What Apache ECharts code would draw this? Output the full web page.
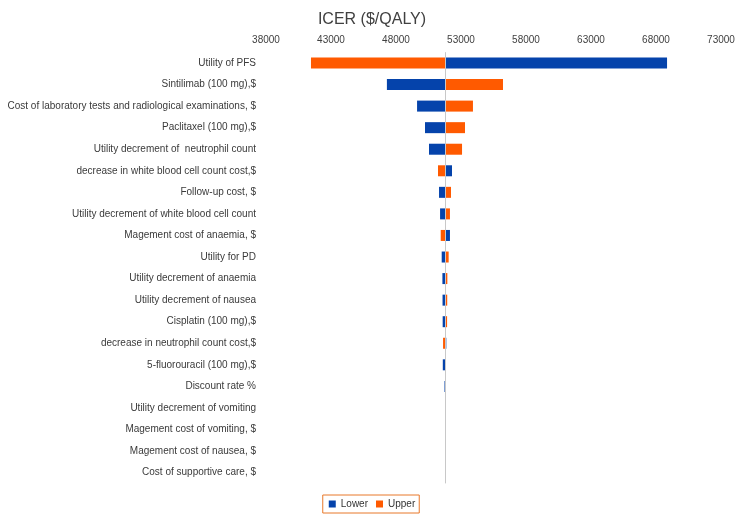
<!DOCTYPE html>
<html>
<head>
<meta charset="utf-8">
<script src="https://cdn.jsdelivr.net/npm/echarts@6/dist/echarts.min.js"></script>
<style>
html,body{margin:0;padding:0;background:#fff;}
#chart{width:744px;height:520px;}
</style>
</head>
<body>
<div id="chart"></div>
<script>
var categories = [
  "Utility of PFS",
  "Sintilimab (100 mg),$",
  "Cost of laboratory tests and radiological examinations, $",
  "Paclitaxel (100 mg),$",
  "Utility decrement of  neutrophil count",
  "decrease in white blood cell count cost,$",
  "Follow-up cost, $",
  "Utility decrement of white blood cell count",
  "Magement cost of anaemia, $",
  "Utility for PD",
  "Utility decrement of anaemia",
  "Utility decrement of nausea",
  "Cisplatin (100 mg),$",
  "decrease in neutrophil count cost,$",
  "5-fluorouracil (100 mg),$",
  "Discount rate %",
  "Utility decrement of vomiting",
  "Magement cost of vomiting, $",
  "Magement cost of nausea, $",
  "Cost of supportive care, $"
];
var baseValue = 51770;
var lowerValues = [68850, 47300, 49620, 50230, 50540, 52310, 51310, 51390, 52150, 51515, 51570, 51580, 51590, 51870, 51600, 51730, 51770, 51770, 51770, 51770];
var upperValues = [41460, 56230, 53920, 53310, 53080, 51230, 52230, 52150, 51440, 52050, 51950, 51940, 51930, 51620, 51840, 51800, 51770, 51770, 51770, 51770];
var axisMin = 38000, axisMax = 73000, axisInterval = 5000;

var lowerOffset = lowerValues.map(function(v){ return Math.min(v, baseValue); });
var lowerLen = lowerValues.map(function(v){ return Math.abs(v - baseValue); });
var upperOffset = upperValues.map(function(v){ return Math.min(v, baseValue); });
var upperLen = upperValues.map(function(v){ return Math.abs(v - baseValue); });

var chart = echarts.init(document.getElementById('chart'));
var BLUE = '#0543ab', ORANGE = '#ff5a00';
chart.setOption({
  animation: false,
  textStyle: { fontFamily: 'Liberation Sans, Arial, sans-serif' },
  title: {
    text: 'ICER ($/QALY)',
    left: 'center',
    top: 7,
    textStyle: { fontSize: 16, fontWeight: 'normal', color: '#404040', fontFamily: 'Liberation Sans, Arial, sans-serif' }
  },
  legend: {
    data: ['Lower', 'Upper'],
    left: 'center',
    top: 495,
    icon: 'rect',
    itemWidth: 7,
    itemHeight: 7,
    itemGap: 8,
    borderColor: '#e8782a',
    borderWidth: 1,
    padding: [4, 4, 4, 6],
    textStyle: { fontSize: 10, color: '#333' }
  },
  grid: { left: 266, right: 23, top: 52.2, bottom: 36.6, containLabel: false, outerBoundsMode: 'none' },
  xAxis: {
    type: 'value',
    position: 'top',
    min: axisMin,
    max: axisMax,
    interval: axisInterval,
    axisLine: { show: false },
    axisTick: { show: false },
    splitLine: { show: false },
    axisLabel: { fontSize: 10, color: '#404040', margin: 7, formatter: function(v){ return String(v); } }
  },
  yAxis: {
    type: 'category',
    data: categories,
    inverse: true,
    axisLine: { show: false },
    axisTick: { show: false },
    axisLabel: { fontSize: 10, color: '#3a3a3a', margin: 10 }
  },
  series: [
    { name: 'lo_off', type: 'bar', stack: 'lo', data: lowerOffset, barWidth: 11, itemStyle: { color: 'rgba(0,0,0,0)' }, silent: true,
      markLine: { silent: true, symbol: 'none', label: { show: false }, lineStyle: { color: '#c8c8c8', width: 1, type: 'solid' }, data: [{ xAxis: baseValue }] } },
    { name: 'Lower', type: 'bar', stack: 'lo', data: lowerLen, barWidth: 11, itemStyle: { color: BLUE } },
    { name: 'up_off', type: 'bar', stack: 'up', data: upperOffset, barWidth: 11, barGap: '-100%', itemStyle: { color: 'rgba(0,0,0,0)' }, silent: true },
    { name: 'Upper', type: 'bar', stack: 'up', data: upperLen, barWidth: 11, barGap: '-100%', itemStyle: { color: ORANGE } }
  ]
});
</script>
</body>
</html>
